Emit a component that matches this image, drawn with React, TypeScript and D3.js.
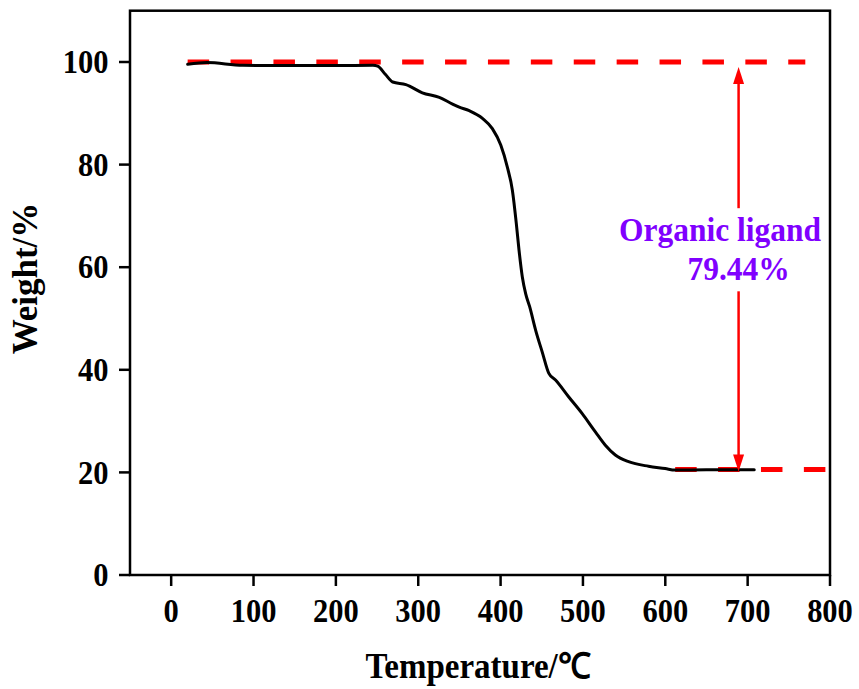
import React from 'react';
import * as d3 from 'd3';

const temperature = [20, 43.5, 87, 150, 200, 245, 250.7, 260, 269, 285, 305, 325.6, 341.7, 349.8, 361.9, 378, 390, 400.2, 408.2, 414.3, 419.1, 422.4, 426.4, 430.5, 435.3, 442.6, 450.5, 458.6, 466.7, 482.8, 498.9, 515.1, 527.2, 539.3, 555.4, 579.6, 599.8, 611.9, 650, 680, 708];
const weight = [99.55, 99.9, 99.35, 99.3, 99.3, 99.35, 99.2, 97.6, 96.1, 95.6, 94.0, 93.1, 91.8, 91.2, 90.5, 89.0, 87.0, 83.8, 79.5, 75.0, 68.5, 63.3, 58.1, 54.8, 52.3, 47.7, 43.5, 39.3, 38.0, 34.7, 31.5, 27.9, 25.3, 23.4, 22.1, 21.2, 20.75, 20.45, 20.5, 20.5, 20.5];

const xTicks = [0, 100, 200, 300, 400, 500, 600, 700, 800];
const yTicks = [0, 20, 40, 60, 80, 100];

const initialLevel = 100;
const residueLevel = 20.56;
const upperLineRange = [20, 770];
const lowerLineRange = [612, 800];
const arrowTemp = 689;
const arrowGapTop = 71.5;
const arrowGapBottom = 55.3;
const annotationLabel = 'Organic ligand';
const annotationValue = '79.44%';

const FONT = "'Liberation Serif', 'Times New Roman', Times, serif";

export default function App() {
  const W = 859, H = 689;
  const x = d3.scaleLinear().domain([-50, 800]).range([130, 830]);
  const y = d3.scaleLinear().domain([0, 110]).range([575, 10.7]);
  const pts: [number, number][] = temperature.map((t, i) => [t, weight[i]]);
  const line = d3.line<[number, number]>()
    .x(d => x(d[0]))
    .y(d => y(d[1]))
    .curve(d3.curveMonotoneX);

  const ax = x(arrowTemp);
  const yTop = y(initialLevel);
  const yBot = y(residueLevel);
  const headL = 17, headW = 5.5;
  const tipTop = yTop + 5;
  const tipBot = yBot + 2;

  return (
    <svg width={W} height={H} style={{ position: 'absolute', left: 0, top: 0, background: '#fff' }}
      fontFamily={FONT} fontWeight="bold">
      <rect x={0} y={0} width={W} height={H} fill="#fff" />
      {/* frame */}
      <rect x={x(-50)} y={y(110)} width={x(800) - x(-50)} height={y(0) - y(110)} fill="none" stroke="#000" strokeWidth={2.5} />
      {/* y ticks */}
      {yTicks.map(v => (
        <g key={'y' + v}>
          <line x1={x(-50) - 11} x2={x(-50)} y1={y(v)} y2={y(v)} stroke="#000" strokeWidth={2.5} />
          <text transform={`translate(${x(-50) - 21.5},${y(v)}) scale(1,1.07)`} dy="0.34em" textAnchor="end" fontSize={30.5} fill="#000">{v}</text>
        </g>
      ))}
      {/* x ticks */}
      {xTicks.map(v => (
        <g key={'x' + v}>
          <line x1={x(v)} x2={x(v)} y1={y(0)} y2={y(0) + 11} stroke="#000" strokeWidth={2.5} />
          <text transform={`translate(${x(v)},622) scale(1,1.07)`} textAnchor="middle" fontSize={30.5} fill="#000">{v}</text>
        </g>
      ))}
      {/* axis titles */}
      <text transform="translate(478,678) scale(1,1.07)" textAnchor="middle" fontSize={33} fill="#000">Temperature/℃</text>
      <text transform="translate(37,278.5) rotate(-90)" textAnchor="middle" fontSize={35} fill="#000">Weight/%</text>
      {/* reference dashed lines */}
      <line x1={x(upperLineRange[0])} x2={x(upperLineRange[1])} y1={yTop} y2={yTop} stroke="#ff0000" strokeWidth={5} strokeDasharray="21.5 21.4" />
      <line x1={x(lowerLineRange[0])} x2={x(lowerLineRange[1])} y1={yBot} y2={yBot} stroke="#ff0000" strokeWidth={5} strokeDasharray="21.5 21.4" />
      {/* curve */}
      <path d={line(pts) || ''} fill="none" stroke="#000" strokeWidth={3} strokeLinejoin="round" strokeLinecap="round" />
      {/* arrow */}
      <line x1={ax} x2={ax} y1={tipTop + headL - 1} y2={y(arrowGapTop)} stroke="#ff0000" strokeWidth={2.5} />
      <path d={`M${ax},${tipTop} L${ax - headW},${tipTop + headL} L${ax + headW},${tipTop + headL} Z`} fill="#ff0000" />
      <line x1={ax} x2={ax} y1={y(arrowGapBottom)} y2={tipBot - headL + 1} stroke="#ff0000" strokeWidth={2.5} />
      <path d={`M${ax},${tipBot} L${ax - headW},${tipBot - headL} L${ax + headW},${tipBot - headL} Z`} fill="#ff0000" />
      {/* annotation */}
      <text transform="translate(720,240.7) scale(1,1.07)" textAnchor="middle" fontSize={31.5} fill="#8000ff">{annotationLabel}</text>
      <text transform={`translate(${ax},280) scale(1,1.07)`} textAnchor="middle" fontSize={31.5} fill="#8000ff">{annotationValue}</text>
    </svg>
  );
}
